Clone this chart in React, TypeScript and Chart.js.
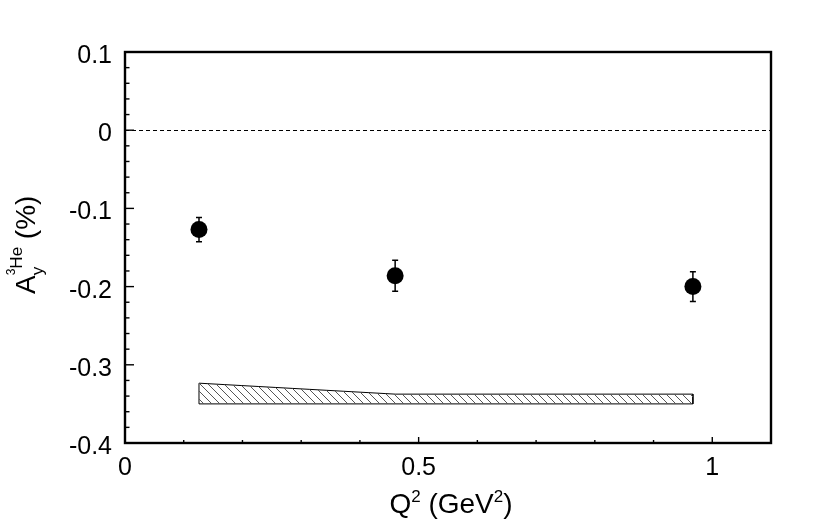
import React, { useEffect, useRef } from "react";
import { Chart, registerables } from "chart.js";

Chart.register(...registerables);

// ---- data ----
const q2 = [0.126, 0.46, 0.967];
const ay = [-0.127, -0.186, -0.2];
const ayErr = [0.0155, 0.0198, 0.019];
const sysTop = [-0.3235, -0.3375, -0.3375];
const sysBottom = [-0.35, -0.35, -0.35];

const xMajorTicks = [0, 0.5, 1];
const xTickLabels = ["0", "0.5", "1"];
const yMajorTicks = [0.1, 0, -0.1, -0.2, -0.3, -0.4];
const yTickLabels = ["0.1", "0", "-0.1", "-0.2", "-0.3", "-0.4"];

const X_MIN = 0;
const X_MAX = 1.1;
const Y_MIN = -0.4;
const Y_MAX = 0.1;
const X_MINOR_STEP = 0.1;
const Y_MINOR_STEP = 0.02;

const FONT = '"Liberation Sans", Arial, Helvetica, sans-serif';

function makeHatch(): CanvasPattern | string {
  const s = 8;
  const c = document.createElement("canvas");
  c.width = s;
  c.height = s;
  const g = c.getContext("2d");
  if (!g) return "rgba(0,0,0,0.2)";
  g.strokeStyle = "#555";
  g.lineWidth = 1;
  g.beginPath();
  g.moveTo(0, 0);
  g.lineTo(s, s);
  g.moveTo(-1, s - 1);
  g.lineTo(1, s + 1);
  g.moveTo(s - 1, -1);
  g.lineTo(s + 1, 1);
  g.stroke();
  const p = g.createPattern(c, "repeat");
  return p || "rgba(0,0,0,0.2)";
}

const decorPlugin = {
  id: "decor",
  beforeDatasetsDraw(chart: any) {
    const ctx = chart.ctx as CanvasRenderingContext2D;
    const xs = chart.scales.x;
    const ys = chart.scales.y;
    const { left, right } = chart.chartArea;
    // dashed zero line
    ctx.save();
    ctx.strokeStyle = "#000";
    ctx.lineWidth = 1;
    ctx.setLineDash([4, 3]);
    const y0 = Math.round(ys.getPixelForValue(0)) + 0.5;
    ctx.beginPath();
    ctx.moveTo(left, y0);
    ctx.lineTo(right, y0);
    ctx.stroke();
    ctx.setLineDash([]);
    // error bars
    ctx.lineWidth = 1.5;
    for (let i = 0; i < q2.length; i++) {
      const px = xs.getPixelForValue(q2[i]);
      const pTop = ys.getPixelForValue(ay[i] + ayErr[i]);
      const pBot = ys.getPixelForValue(ay[i] - ayErr[i]);
      ctx.beginPath();
      ctx.moveTo(px, pTop);
      ctx.lineTo(px, pBot);
      ctx.moveTo(px - 3, pTop);
      ctx.lineTo(px + 3, pTop);
      ctx.moveTo(px - 3, pBot);
      ctx.lineTo(px + 3, pBot);
      ctx.stroke();
    }
    ctx.restore();
  },
  afterDatasetsDraw(chart: any) {
    const ctx = chart.ctx as CanvasRenderingContext2D;
    const xs = chart.scales.x;
    const ys = chart.scales.y;
    const { left, right, top, bottom } = chart.chartArea;
    ctx.save();
    ctx.strokeStyle = "#000";
    // ticks on left axis
    ctx.lineWidth = 1.4;
    const nY = Math.round((Y_MAX - Y_MIN) / Y_MINOR_STEP);
    for (let i = 0; i <= nY; i++) {
      const v = Y_MIN + i * Y_MINOR_STEP;
      const py = ys.getPixelForValue(v);
      const major = i % 5 === 0;
      ctx.beginPath();
      ctx.moveTo(left, py);
      ctx.lineTo(left + (major ? 9 : 4.5), py);
      ctx.stroke();
    }
    // ticks on bottom axis
    const nX = Math.round((X_MAX - X_MIN) / X_MINOR_STEP);
    for (let i = 0; i <= nX; i++) {
      const v = X_MIN + i * X_MINOR_STEP;
      const px = xs.getPixelForValue(v);
      const major = i % 5 === 0;
      ctx.beginPath();
      ctx.moveTo(px, bottom);
      ctx.lineTo(px, bottom - (major ? 6 : 3));
      ctx.stroke();
    }
    // frame
    ctx.lineWidth = 2.4;
    ctx.strokeRect(left, top, right - left, bottom - top);

    // tick labels
    ctx.fillStyle = "#000";
    ctx.font = `25px ${FONT}`;
    ctx.textBaseline = "alphabetic";
    ctx.textAlign = "right";
    yMajorTicks.forEach((v, i) => {
      const py = ys.getPixelForValue(v);
      ctx.fillText(yTickLabels[i], 112, py + 11);
    });
    ctx.textAlign = "center";
    xMajorTicks.forEach((v, i) => {
      const px = xs.getPixelForValue(v);
      ctx.fillText(xTickLabels[i], px, bottom + 32);
    });

    // x title: Q^2 (GeV^2)
    const big = `28px ${FONT}`;
    const sup = `17px ${FONT}`;
    const parts: [string, string, number][] = [
      ["Q", big, 0],
      ["2", sup, -11],
      [" (GeV", big, 0],
      ["2", sup, -11],
      [")", big, 0],
    ];
    let total = 0;
    for (const [t, f] of parts) {
      ctx.font = f;
      total += ctx.measureText(t).width;
    }
    ctx.textAlign = "left";
    let cx = 451 - total / 2;
    for (const [t, f, dy] of parts) {
      ctx.font = f;
      ctx.fillText(t, cx, 513 + dy);
      cx += ctx.measureText(t).width;
    }

    // y title: A_y^{3He} (%)
    ctx.translate(35, 243);
    ctx.rotate(-Math.PI / 2);
    let lx = -51;
    ctx.font = big;
    ctx.fillText("A", lx, 0);
    lx += ctx.measureText("A").width;
    const subStart = lx;
    ctx.font = `17px ${FONT}`;
    ctx.fillText("y", subStart, 8);
    const yW = ctx.measureText("y").width;
    ctx.font = `12px ${FONT}`;
    ctx.fillText("3", subStart, -20);
    let sx = subStart + ctx.measureText("3").width;
    ctx.font = `17px ${FONT}`;
    ctx.fillText("He", sx, -13);
    sx += ctx.measureText("He").width;
    lx = Math.max(sx, subStart + yW);
    ctx.font = big;
    ctx.fillText(" (%)", lx, 0);
    ctx.restore();
  },
};

export default function App() {
  const ref = useRef<HTMLCanvasElement | null>(null);
  useEffect(() => {
    if (!ref.current) return;
    const hatch = makeHatch();
    const outline = [
      { x: q2[0], y: sysBottom[0] },
      ...q2.map((x, i) => ({ x, y: sysTop[i] })),
      ...q2.map((x, i) => ({ x, y: sysBottom[i] })).reverse(),
    ];
    const chart = new Chart(ref.current, {
      type: "scatter",
      data: {
        datasets: [
          {
            label: "sys fill",
            data: q2.map((x, i) => ({ x, y: sysTop[i] })),
            showLine: true,
            borderWidth: 0,
            borderColor: "rgba(0,0,0,0)",
            backgroundColor: hatch as any,
            fill: { value: sysBottom[0] },
            pointRadius: 0,
            tension: 0,
          } as any,
          {
            label: "sys outline",
            data: outline,
            showLine: true,
            borderWidth: 1,
            borderColor: "#000",
            backgroundColor: "rgba(0,0,0,0)",
            fill: false,
            pointRadius: 0,
            tension: 0,
          } as any,
          {
            label: "Ay",
            data: q2.map((x, i) => ({ x, y: ay[i] })),
            pointRadius: 8.5,
            pointBackgroundColor: "#000",
            pointBorderColor: "#000",
            pointBorderWidth: 0,
            showLine: false,
          } as any,
        ],
      },
      options: {
        animation: false,
        responsive: false,
        devicePixelRatio: 1,
        events: [],
        layout: { padding: { left: 125, top: 52, right: 59, bottom: 79 } },
        plugins: {
          legend: { display: false },
          tooltip: { enabled: false },
        },
        scales: {
          x: { type: "linear", min: X_MIN, max: X_MAX, display: false },
          y: { type: "linear", min: Y_MIN, max: Y_MAX, display: false },
        },
      },
      plugins: [decorPlugin],
    });
    return () => chart.destroy();
  }, []);
  return (
    <div style={{ position: "fixed", left: 0, top: 0, width: 830, height: 522, background: "#fff" }}>
      <canvas ref={ref} width={830} height={522} style={{ width: 830, height: 522, display: "block" }} />
    </div>
  );
}
